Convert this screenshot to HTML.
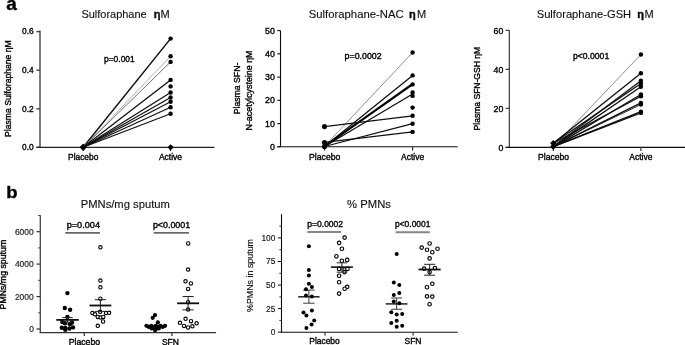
<!DOCTYPE html>
<html><head><meta charset="utf-8"><title>Figure</title>
<style>
html,body{margin:0;padding:0;background:#fff;}
svg{display:block;font-family:"Liberation Sans", sans-serif;}
text{stroke:#000;stroke-width:.36px;}
text.l{stroke-width:.12px;}
text.t{stroke:#111;stroke-width:.12px;fill:#111;}
</style></head>
<body>
<svg width="685" height="345" viewBox="0 0 685 345">
<defs><filter id="soft" x="0" y="0" width="685" height="345" filterUnits="userSpaceOnUse"><feGaussianBlur stdDeviation="0.33"/></filter></defs>
<rect width="685" height="345" fill="#fff"/>
<g filter="url(#soft)">
<text x="6.2" y="9.7" font-size="19" font-weight="bold" fill="#000">a</text>
<text x="6.3" y="197.8" font-size="17" textLength="11.3" lengthAdjust="spacingAndGlyphs" font-weight="bold" fill="#000">b</text>
<line x1="40" y1="30.5" x2="40" y2="147.3" stroke="#444" stroke-width="1.4"/>
<line x1="36.4" y1="31.6" x2="40" y2="31.6" stroke="#444" stroke-width="1.4"/>
<text x="33.7" y="34.0" font-size="8.4" text-anchor="end" fill="#111">0.6</text>
<line x1="36.4" y1="70.2" x2="40" y2="70.2" stroke="#444" stroke-width="1.4"/>
<text x="33.7" y="72.8" font-size="8.4" text-anchor="end" fill="#111">0.4</text>
<line x1="36.4" y1="108.8" x2="40" y2="108.8" stroke="#444" stroke-width="1.4"/>
<text x="33.7" y="111.6" font-size="8.4" text-anchor="end" fill="#111">0.2</text>
<line x1="36.4" y1="147.3" x2="40" y2="147.3" stroke="#444" stroke-width="1.4"/>
<text x="33.7" y="150.3" font-size="8.4" text-anchor="end" fill="#111">0.0</text>
<line x1="36.4" y1="147.3" x2="214.4" y2="147.3" stroke="#222" stroke-width="1.3"/>
<line x1="83.2" y1="147.3" x2="83.2" y2="151" stroke="#333" stroke-width="1.2"/>
<line x1="170.5" y1="147.3" x2="170.5" y2="151" stroke="#333" stroke-width="1.2"/>
<text x="83.2" y="159.7" font-size="8.4" text-anchor="middle" textLength="30.3" lengthAdjust="spacingAndGlyphs" fill="#111">Placebo</text>
<text x="170.5" y="159.9" font-size="8.4" text-anchor="middle" textLength="23.2" lengthAdjust="spacingAndGlyphs" fill="#111">Active</text>
<text x="81.4" y="18" font-size="11" textLength="65.3" lengthAdjust="spacingAndGlyphs" fill="#111" class="t">Sulforaphane</text>
<text x="153.7" y="18" font-size="11" font-weight="bold" fill="#111">η</text>
<text x="160.5" y="18" font-size="11" fill="#111" class="t">M</text>
<text x="104" y="61.5" font-size="8.4" textLength="30.7" lengthAdjust="spacingAndGlyphs" fill="#111">p=0.001</text>
<text x="11.2" y="137.0" font-size="8.4" textLength="96.8" lengthAdjust="spacingAndGlyphs" transform="rotate(-90 11.2 137.0)" fill="#111">Plasma Sulforaphane ηM</text>
<line x1="83.2" y1="147.3" x2="170.6" y2="38.6" stroke="#111" stroke-width="1.45"/>
<line x1="83.2" y1="147.3" x2="170.6" y2="56.3" stroke="#777" stroke-width="0.6"/>
<line x1="83.2" y1="147.3" x2="170.6" y2="61.9" stroke="#333" stroke-width="0.7"/>
<line x1="83.2" y1="147.3" x2="170.6" y2="79.9" stroke="#111" stroke-width="1.3"/>
<line x1="83.2" y1="147.3" x2="170.6" y2="92.5" stroke="#111" stroke-width="1.3"/>
<line x1="83.2" y1="147.3" x2="170.6" y2="97.5" stroke="#111" stroke-width="1.2"/>
<line x1="83.2" y1="147.3" x2="170.6" y2="101.8" stroke="#111" stroke-width="1.2"/>
<line x1="83.2" y1="147.3" x2="170.6" y2="107.2" stroke="#111" stroke-width="1.2"/>
<line x1="83.2" y1="147.3" x2="170.6" y2="113.7" stroke="#111" stroke-width="1.2"/>
<circle cx="170.6" cy="38.6" r="2.2" fill="#000"/>
<circle cx="170.6" cy="56.3" r="2.2" fill="#000"/>
<circle cx="170.6" cy="61.9" r="2.2" fill="#000"/>
<circle cx="170.6" cy="79.9" r="2.2" fill="#000"/>
<circle cx="170.6" cy="86.4" r="2.2" fill="#000"/>
<circle cx="170.6" cy="92.5" r="2.2" fill="#000"/>
<circle cx="170.6" cy="97.5" r="2.2" fill="#000"/>
<circle cx="170.6" cy="101.8" r="2.2" fill="#000"/>
<circle cx="170.6" cy="107.2" r="2.2" fill="#000"/>
<circle cx="170.6" cy="113.7" r="2.2" fill="#000"/>
<path d="M168.45 147.3L170.6 145.15L172.75 147.3L170.6 149.45000000000002Z" fill="#000" stroke="#000" stroke-width="1.3" stroke-linejoin="round"/>
<path d="M80.45 147.3L83.2 144.55L85.95 147.3L83.2 150.05Z" fill="#000" stroke="#000" stroke-width="1.3" stroke-linejoin="round"/>
<line x1="280.5" y1="30.6" x2="280.5" y2="146.8" stroke="#111" stroke-width="1.1"/>
<line x1="277.3" y1="30.6" x2="280.5" y2="30.6" stroke="#111" stroke-width="1.1"/>
<text x="274.9" y="33.5" font-size="8.8" text-anchor="end" fill="#111">50</text>
<line x1="277.3" y1="53.8" x2="280.5" y2="53.8" stroke="#111" stroke-width="1.1"/>
<text x="274.9" y="56.7" font-size="8.8" text-anchor="end" fill="#111">40</text>
<line x1="277.3" y1="77.1" x2="280.5" y2="77.1" stroke="#111" stroke-width="1.1"/>
<text x="274.9" y="80.0" font-size="8.8" text-anchor="end" fill="#111">30</text>
<line x1="277.3" y1="100.3" x2="280.5" y2="100.3" stroke="#111" stroke-width="1.1"/>
<text x="274.9" y="103.2" font-size="8.8" text-anchor="end" fill="#111">20</text>
<line x1="277.3" y1="123.6" x2="280.5" y2="123.6" stroke="#111" stroke-width="1.1"/>
<text x="274.9" y="126.5" font-size="8.8" text-anchor="end" fill="#111">10</text>
<line x1="277.3" y1="146.8" x2="280.5" y2="146.8" stroke="#111" stroke-width="1.1"/>
<text x="274.9" y="149.7" font-size="8.8" text-anchor="end" fill="#111">0</text>
<line x1="277.3" y1="146.8" x2="457.7" y2="146.8" stroke="#111" stroke-width="1.1"/>
<line x1="324.5" y1="146.8" x2="324.5" y2="150.6" stroke="#333" stroke-width="1.2"/>
<line x1="412.6" y1="146.8" x2="412.6" y2="150.6" stroke="#333" stroke-width="1.2"/>
<text x="324.7" y="159.5" font-size="8.4" text-anchor="middle" textLength="31.2" lengthAdjust="spacingAndGlyphs" fill="#111">Placebo</text>
<text x="412.6" y="159.7" font-size="8.4" text-anchor="middle" textLength="23.2" lengthAdjust="spacingAndGlyphs" fill="#111">Active</text>
<text x="308.8" y="18.4" font-size="11" textLength="94.8" lengthAdjust="spacingAndGlyphs" fill="#111" class="t">Sulforaphane-NAC</text>
<text x="408.9" y="18.4" font-size="11" font-weight="bold" fill="#111">η</text>
<text x="416.9" y="18.4" font-size="11" fill="#111" class="t">M</text>
<text x="344.6" y="58.8" font-size="8.4" textLength="37.1" lengthAdjust="spacingAndGlyphs" fill="#111">p=0.0002</text>
<text x="240.1" y="114.3" font-size="8.4" textLength="51.6" lengthAdjust="spacingAndGlyphs" transform="rotate(-90 240.1 114.3)" fill="#111">Plasma SFN-</text>
<text x="251.8" y="130.5" font-size="8.4" textLength="80" lengthAdjust="spacingAndGlyphs" transform="rotate(-90 251.8 130.5)" fill="#111">N-acetylcysteine ηM</text>
<line x1="324.5" y1="146.2" x2="412.6" y2="52.5" stroke="#333" stroke-width="0.55"/>
<line x1="324.5" y1="146.5" x2="412.6" y2="75.4" stroke="#111" stroke-width="1.3"/>
<line x1="324.5" y1="146.3" x2="412.6" y2="83.8" stroke="#000" stroke-width="1.7"/>
<line x1="324.5" y1="146.8" x2="412.6" y2="84.8" stroke="#000" stroke-width="1.3"/>
<line x1="324.5" y1="146.5" x2="412.6" y2="94.0" stroke="#111" stroke-width="1.3"/>
<line x1="324.5" y1="126.6" x2="412.6" y2="115.8" stroke="#111" stroke-width="1.25"/>
<line x1="324.5" y1="146.5" x2="412.6" y2="123.7" stroke="#111" stroke-width="1.25"/>
<line x1="324.5" y1="142.3" x2="412.6" y2="131.9" stroke="#111" stroke-width="1.25"/>
<circle cx="412.6" cy="52.5" r="2.2" fill="#000"/>
<circle cx="412.6" cy="75.4" r="2.2" fill="#000"/>
<circle cx="412.6" cy="84.4" r="2.2" fill="#000"/>
<circle cx="412.6" cy="92.5" r="2.2" fill="#000"/>
<circle cx="412.6" cy="95.9" r="2.2" fill="#000"/>
<circle cx="412.6" cy="107.6" r="2.2" fill="#000"/>
<circle cx="412.6" cy="115.8" r="2.2" fill="#000"/>
<circle cx="412.6" cy="123.7" r="2.2" fill="#000"/>
<circle cx="412.6" cy="131.9" r="2.2" fill="#000"/>
<circle cx="324.5" cy="126.6" r="2.55" fill="#000"/>
<circle cx="324.5" cy="142.5" r="2.55" fill="#000"/>
<circle cx="324.5" cy="146.6" r="2.55" fill="#000"/>
<line x1="509.3" y1="30.3" x2="509.3" y2="147.4" stroke="#222" stroke-width="1.05"/>
<line x1="505.7" y1="30.3" x2="509.3" y2="30.3" stroke="#222" stroke-width="1.05"/>
<text x="503.3" y="33.5" font-size="8.8" text-anchor="end" fill="#111">60</text>
<line x1="505.7" y1="69.3" x2="509.3" y2="69.3" stroke="#222" stroke-width="1.05"/>
<text x="503.3" y="72.5" font-size="8.8" text-anchor="end" fill="#111">40</text>
<line x1="505.7" y1="108.3" x2="509.3" y2="108.3" stroke="#222" stroke-width="1.05"/>
<text x="503.3" y="111.5" font-size="8.8" text-anchor="end" fill="#111">20</text>
<line x1="505.7" y1="147.4" x2="509.3" y2="147.4" stroke="#222" stroke-width="1.05"/>
<text x="503.3" y="150.6" font-size="8.8" text-anchor="end" fill="#111">0</text>
<line x1="505.6" y1="147.4" x2="685" y2="147.4" stroke="#111" stroke-width="1.1"/>
<line x1="553.4" y1="147.2" x2="553.4" y2="151" stroke="#333" stroke-width="1.2"/>
<line x1="640.9" y1="147.2" x2="640.9" y2="151" stroke="#333" stroke-width="1.2"/>
<text x="553.6" y="159.5" font-size="8.4" text-anchor="middle" textLength="31" lengthAdjust="spacingAndGlyphs" fill="#111">Placebo</text>
<text x="640.9" y="159.7" font-size="8.4" text-anchor="middle" textLength="23.2" lengthAdjust="spacingAndGlyphs" fill="#111">Active</text>
<text x="536.7" y="18" font-size="11" textLength="94.5" lengthAdjust="spacingAndGlyphs" fill="#111" class="t">Sulforaphane-GSH</text>
<text x="637.3" y="18" font-size="11" font-weight="bold" fill="#111">η</text>
<text x="644.5" y="18" font-size="11" fill="#111" class="t">M</text>
<text x="573" y="58.6" font-size="8.4" textLength="36.2" lengthAdjust="spacingAndGlyphs" fill="#111">p&lt;0.0001</text>
<text x="480.5" y="130.4" font-size="8.4" textLength="83.5" lengthAdjust="spacingAndGlyphs" transform="rotate(-90 480.5 130.4)" fill="#111">Plasma SFN-GSH ηM</text>
<line x1="553.3" y1="146.6" x2="640.9" y2="54.5" stroke="#333" stroke-width="0.55"/>
<line x1="553.3" y1="143.3" x2="640.9" y2="73.3" stroke="#111" stroke-width="1.3"/>
<line x1="553.3" y1="146.6" x2="640.9" y2="80.7" stroke="#111" stroke-width="1.3"/>
<line x1="553.3" y1="143.3" x2="640.9" y2="83.5" stroke="#111" stroke-width="1.3"/>
<line x1="553.3" y1="146.6" x2="640.9" y2="86.8" stroke="#111" stroke-width="1.3"/>
<line x1="553.3" y1="146.6" x2="640.9" y2="94.5" stroke="#111" stroke-width="1.3"/>
<line x1="553.3" y1="143.3" x2="640.9" y2="96.2" stroke="#111" stroke-width="1.2"/>
<line x1="553.3" y1="146.6" x2="640.9" y2="102.9" stroke="#111" stroke-width="1.3"/>
<line x1="553.3" y1="146.6" x2="640.9" y2="104.5" stroke="#111" stroke-width="0.9"/>
<line x1="553.3" y1="146.6" x2="640.9" y2="111.7" stroke="#111" stroke-width="1.3"/>
<line x1="553.3" y1="146.6" x2="640.9" y2="112.9" stroke="#111" stroke-width="1.2"/>
<circle cx="640.9" cy="54.5" r="2.2" fill="#000"/>
<circle cx="640.9" cy="73.3" r="2.2" fill="#000"/>
<circle cx="640.9" cy="80.7" r="2.2" fill="#000"/>
<circle cx="640.9" cy="83.5" r="2.2" fill="#000"/>
<circle cx="640.9" cy="86.8" r="2.2" fill="#000"/>
<circle cx="640.9" cy="94.5" r="2.2" fill="#000"/>
<circle cx="640.9" cy="96.2" r="2.2" fill="#000"/>
<circle cx="640.9" cy="102.9" r="2.2" fill="#000"/>
<circle cx="640.9" cy="104.5" r="2.2" fill="#000"/>
<circle cx="640.9" cy="111.7" r="2.2" fill="#000"/>
<circle cx="640.9" cy="112.9" r="2.2" fill="#000"/>
<path d="M550.9499999999999 143.2L553.3 140.85L555.65 143.2L553.3 145.54999999999998Z" fill="#000" stroke="#000" stroke-width="1.3" stroke-linejoin="round"/>
<path d="M550.9499999999999 146.6L553.3 144.25L555.65 146.6L553.3 148.95Z" fill="#000" stroke="#000" stroke-width="1.3" stroke-linejoin="round"/>
<line x1="40.3" y1="215.3" x2="40.3" y2="332.7" stroke="#444" stroke-width="1.3"/>
<line x1="36.5" y1="231.7" x2="40.3" y2="231.7" stroke="#333" stroke-width="1.2"/>
<text x="33.8" y="234.7" font-size="8.4" text-anchor="end" textLength="18.9" lengthAdjust="spacingAndGlyphs" fill="#111" class="l">6000</text>
<line x1="36.5" y1="264.1" x2="40.3" y2="264.1" stroke="#333" stroke-width="1.2"/>
<text x="33.8" y="267.1" font-size="8.4" text-anchor="end" textLength="18.9" lengthAdjust="spacingAndGlyphs" fill="#111" class="l">4000</text>
<line x1="36.5" y1="296.6" x2="40.3" y2="296.6" stroke="#333" stroke-width="1.2"/>
<text x="33.8" y="299.6" font-size="8.4" text-anchor="end" textLength="18.9" lengthAdjust="spacingAndGlyphs" fill="#111" class="l">2000</text>
<line x1="36.5" y1="329.0" x2="40.3" y2="329.0" stroke="#333" stroke-width="1.2"/>
<text x="33.8" y="332.0" font-size="8.4" text-anchor="end" fill="#111" class="l">0</text>
<line x1="38.099999999999994" y1="215.5" x2="40.3" y2="215.5" stroke="#444" stroke-width="1.0"/>
<line x1="38.099999999999994" y1="247.9" x2="40.3" y2="247.9" stroke="#444" stroke-width="1.0"/>
<line x1="38.099999999999994" y1="280.3" x2="40.3" y2="280.3" stroke="#444" stroke-width="1.0"/>
<line x1="38.099999999999994" y1="312.8" x2="40.3" y2="312.8" stroke="#444" stroke-width="1.0"/>
<line x1="39.699999999999996" y1="332.7" x2="216.1" y2="332.7" stroke="#333" stroke-width="1.2"/>
<line x1="84.3" y1="332.7" x2="84.3" y2="336" stroke="#333" stroke-width="1.2"/>
<line x1="171.9" y1="332.7" x2="171.9" y2="336" stroke="#333" stroke-width="1.2"/>
<text x="84.4" y="344.6" font-size="8.4" text-anchor="middle" textLength="31.5" lengthAdjust="spacingAndGlyphs" fill="#111">Placebo</text>
<text x="170.4" y="344.8" font-size="8.4" text-anchor="middle" textLength="17" lengthAdjust="spacingAndGlyphs" fill="#111">SFN</text>
<text x="80.7" y="207.7" font-size="11" textLength="89.2" lengthAdjust="spacingAndGlyphs" fill="#111" class="t">PMNs/mg sputum</text>
<text x="6.4" y="309.4" font-size="8.4" textLength="69.6" lengthAdjust="spacingAndGlyphs" transform="rotate(-90 6.4 309.4)" fill="#111">PMNs/mg sputum</text>
<text x="66.7" y="227.5" font-size="8.4" textLength="33.3" lengthAdjust="spacingAndGlyphs" fill="#111">p=0.004</text>
<line x1="65.2" y1="232.8" x2="99.9" y2="232.8" stroke="#666" stroke-width="1.8"/>
<text x="152.9" y="227.5" font-size="8.4" textLength="37.3" lengthAdjust="spacingAndGlyphs" fill="#111">p&lt;0.0001</text>
<line x1="153.7" y1="232.8" x2="189" y2="232.8" stroke="#6a6a6a" stroke-width="1.7"/>
<circle cx="67.4" cy="293.1" r="2.2" fill="#000"/>
<circle cx="64.8" cy="308" r="2.2" fill="#000"/>
<circle cx="70.1" cy="309.7" r="2.2" fill="#000"/>
<circle cx="67.4" cy="316.9" r="2.2" fill="#000"/>
<circle cx="62.3" cy="322" r="2.2" fill="#000"/>
<circle cx="65" cy="323.2" r="2.2" fill="#000"/>
<circle cx="72" cy="322.5" r="2.2" fill="#000"/>
<circle cx="69.8" cy="324.2" r="2.2" fill="#000"/>
<circle cx="61.8" cy="327.8" r="2.2" fill="#000"/>
<circle cx="65.3" cy="328" r="2.2" fill="#000"/>
<circle cx="69.4" cy="328.6" r="2.2" fill="#000"/>
<circle cx="73" cy="327.4" r="2.2" fill="#000"/>
<circle cx="65.3" cy="329.8" r="2.2" fill="#000"/>
<line x1="67.5" y1="317.6" x2="67.5" y2="322.2" stroke="#222" stroke-width="1.0"/>
<line x1="62.3" y1="317.6" x2="72.7" y2="317.6" stroke="#222" stroke-width="1.0"/>
<line x1="62.3" y1="322.2" x2="72.7" y2="322.2" stroke="#222" stroke-width="1.0"/>
<line x1="56.3" y1="319.9" x2="78.7" y2="319.9" stroke="#111" stroke-width="1.8"/>
<circle cx="100.4" cy="247.3" r="1.7" fill="#fff" stroke="#000" stroke-width="1.1"/>
<circle cx="100.4" cy="280.6" r="1.7" fill="#fff" stroke="#000" stroke-width="1.1"/>
<circle cx="100.4" cy="287.3" r="1.7" fill="#fff" stroke="#000" stroke-width="1.1"/>
<circle cx="100.4" cy="298.7" r="1.7" fill="#fff" stroke="#000" stroke-width="1.1"/>
<circle cx="100.1" cy="311.8" r="1.7" fill="#fff" stroke="#000" stroke-width="1.1"/>
<circle cx="92.4" cy="313.1" r="1.7" fill="#fff" stroke="#000" stroke-width="1.1"/>
<circle cx="95" cy="314.3" r="1.7" fill="#fff" stroke="#000" stroke-width="1.1"/>
<circle cx="106" cy="313.1" r="1.7" fill="#fff" stroke="#000" stroke-width="1.1"/>
<circle cx="109.1" cy="312.8" r="1.7" fill="#fff" stroke="#000" stroke-width="1.1"/>
<circle cx="97.8" cy="316.9" r="1.7" fill="#fff" stroke="#000" stroke-width="1.1"/>
<circle cx="100.6" cy="317.6" r="1.7" fill="#fff" stroke="#000" stroke-width="1.1"/>
<circle cx="103.3" cy="316.9" r="1.7" fill="#fff" stroke="#000" stroke-width="1.1"/>
<circle cx="103.1" cy="321.5" r="1.7" fill="#fff" stroke="#000" stroke-width="1.1"/>
<circle cx="97.8" cy="325.8" r="1.7" fill="#fff" stroke="#000" stroke-width="1.1"/>
<line x1="100.4" y1="299.7" x2="100.4" y2="311.4" stroke="#222" stroke-width="1.0"/>
<line x1="94.80000000000001" y1="299.7" x2="106.0" y2="299.7" stroke="#222" stroke-width="1.0"/>
<line x1="94.80000000000001" y1="311.4" x2="106.0" y2="311.4" stroke="#222" stroke-width="1.0"/>
<line x1="89.5" y1="305.5" x2="111.30000000000001" y2="305.5" stroke="#111" stroke-width="1.8"/>
<circle cx="155" cy="315.1" r="2.1" fill="#000"/>
<circle cx="152.7" cy="317.8" r="2.1" fill="#000"/>
<circle cx="157.9" cy="322.4" r="2.1" fill="#000"/>
<circle cx="146.6" cy="325.8" r="2.1" fill="#000"/>
<circle cx="148.9" cy="327.0" r="2.1" fill="#000"/>
<circle cx="151.2" cy="325.8" r="2.1" fill="#000"/>
<circle cx="153.5" cy="327.0" r="2.1" fill="#000"/>
<circle cx="155.79999999999998" cy="325.8" r="2.1" fill="#000"/>
<circle cx="158.1" cy="327.0" r="2.1" fill="#000"/>
<circle cx="160.4" cy="325.8" r="2.1" fill="#000"/>
<circle cx="162.7" cy="327.0" r="2.1" fill="#000"/>
<circle cx="165.0" cy="325.8" r="2.1" fill="#000"/>
<circle cx="151.6" cy="328.4" r="2.1" fill="#000"/>
<circle cx="154.0" cy="328.4" r="2.1" fill="#000"/>
<circle cx="156.4" cy="328.4" r="2.1" fill="#000"/>
<circle cx="158.79999999999998" cy="328.4" r="2.1" fill="#000"/>
<circle cx="155.1" cy="330.2" r="2.1" fill="#000"/>
<line x1="144.6" y1="325.8" x2="166.5" y2="325.8" stroke="#000" stroke-width="1.8"/>
<circle cx="188.2" cy="243.5" r="1.7" fill="#fff" stroke="#000" stroke-width="1.1"/>
<circle cx="188.1" cy="269.6" r="1.7" fill="#fff" stroke="#000" stroke-width="1.1"/>
<circle cx="185.5" cy="281.3" r="1.7" fill="#fff" stroke="#000" stroke-width="1.1"/>
<circle cx="190.9" cy="283.5" r="1.7" fill="#fff" stroke="#000" stroke-width="1.1"/>
<circle cx="188.1" cy="288.9" r="1.7" fill="#fff" stroke="#000" stroke-width="1.1"/>
<circle cx="188.1" cy="302.2" r="1.7" fill="#fff" stroke="#000" stroke-width="1.1"/>
<circle cx="188.1" cy="309.6" r="1.7" fill="#fff" stroke="#000" stroke-width="1.1"/>
<circle cx="185.6" cy="318.8" r="1.7" fill="#fff" stroke="#000" stroke-width="1.1"/>
<circle cx="180" cy="322.8" r="1.7" fill="#fff" stroke="#000" stroke-width="1.1"/>
<circle cx="191" cy="321.2" r="1.7" fill="#fff" stroke="#000" stroke-width="1.1"/>
<circle cx="196.6" cy="323.3" r="1.7" fill="#fff" stroke="#000" stroke-width="1.1"/>
<circle cx="184" cy="325.9" r="1.7" fill="#fff" stroke="#000" stroke-width="1.1"/>
<circle cx="188.1" cy="327.5" r="1.7" fill="#fff" stroke="#000" stroke-width="1.1"/>
<circle cx="192.4" cy="326.3" r="1.7" fill="#fff" stroke="#000" stroke-width="1.1"/>
<line x1="188.1" y1="296.5" x2="188.1" y2="309.9" stroke="#222" stroke-width="1.0"/>
<line x1="182.5" y1="296.5" x2="193.7" y2="296.5" stroke="#222" stroke-width="1.0"/>
<line x1="182.5" y1="309.9" x2="193.7" y2="309.9" stroke="#222" stroke-width="1.0"/>
<line x1="177.1" y1="303.3" x2="199.1" y2="303.3" stroke="#111" stroke-width="1.8"/>
<line x1="281.5" y1="214.2" x2="281.5" y2="332.2" stroke="#111" stroke-width="1.1"/>
<line x1="277.9" y1="237.9" x2="281.5" y2="237.9" stroke="#111" stroke-width="1.0"/>
<text x="275.4" y="240.8" font-size="8.4" text-anchor="end" fill="#111" class="l">100</text>
<line x1="277.9" y1="261.5" x2="281.5" y2="261.5" stroke="#111" stroke-width="1.0"/>
<text x="275.4" y="264.4" font-size="8.4" text-anchor="end" fill="#111" class="l">75</text>
<line x1="277.9" y1="285.1" x2="281.5" y2="285.1" stroke="#111" stroke-width="1.0"/>
<text x="275.4" y="288.0" font-size="8.4" text-anchor="end" fill="#111" class="l">50</text>
<line x1="277.9" y1="308.6" x2="281.5" y2="308.6" stroke="#111" stroke-width="1.0"/>
<text x="275.4" y="311.5" font-size="8.4" text-anchor="end" fill="#111" class="l">25</text>
<line x1="277.9" y1="332.2" x2="281.5" y2="332.2" stroke="#111" stroke-width="1.0"/>
<text x="275.4" y="335.09999999999997" font-size="8.4" text-anchor="end" fill="#111" class="l">0</text>
<line x1="279.3" y1="226.1" x2="281.5" y2="226.1" stroke="#222" stroke-width="0.9"/>
<line x1="279.3" y1="249.7" x2="281.5" y2="249.7" stroke="#222" stroke-width="0.9"/>
<line x1="279.3" y1="273.3" x2="281.5" y2="273.3" stroke="#222" stroke-width="0.9"/>
<line x1="279.3" y1="296.9" x2="281.5" y2="296.9" stroke="#222" stroke-width="0.9"/>
<line x1="279.3" y1="320.4" x2="281.5" y2="320.4" stroke="#222" stroke-width="0.9"/>
<line x1="281.0" y1="332.2" x2="457.7" y2="332.2" stroke="#111" stroke-width="1.1"/>
<line x1="325" y1="332.2" x2="325" y2="335.6" stroke="#333" stroke-width="1.2"/>
<line x1="413.1" y1="332.2" x2="413.1" y2="335.6" stroke="#333" stroke-width="1.2"/>
<text x="324.5" y="344.4" font-size="8.4" text-anchor="middle" textLength="30.5" lengthAdjust="spacingAndGlyphs" fill="#111">Placebo</text>
<text x="413" y="344.3" font-size="8.4" text-anchor="middle" textLength="17" lengthAdjust="spacingAndGlyphs" fill="#111">SFN</text>
<text x="347.1" y="208.0" font-size="11" textLength="43.8" lengthAdjust="spacingAndGlyphs" fill="#111" class="t">% PMNs</text>
<text x="253.1" y="312" font-size="8.4" textLength="73" lengthAdjust="spacingAndGlyphs" transform="rotate(-90 253.1 312)" fill="#111" class="l">%PMNs in sputum</text>
<text x="307.3" y="227.0" font-size="8.4" textLength="35.8" lengthAdjust="spacingAndGlyphs" fill="#111">p=0.0002</text>
<line x1="307.3" y1="232.1" x2="341" y2="232.1" stroke="#858585" stroke-width="2.0"/>
<text x="395" y="227.0" font-size="8.4" textLength="35.4" lengthAdjust="spacingAndGlyphs" fill="#111">p&lt;0.0001</text>
<line x1="395.6" y1="232.2" x2="429.8" y2="232.2" stroke="#858585" stroke-width="2.0"/>
<line x1="308.9" y1="290.1" x2="308.9" y2="303.2" stroke="#4a4a4a" stroke-width="1.1"/>
<line x1="303.2" y1="290.1" x2="314.59999999999997" y2="290.1" stroke="#4a4a4a" stroke-width="1.1"/>
<line x1="303.2" y1="303.2" x2="314.59999999999997" y2="303.2" stroke="#4a4a4a" stroke-width="1.1"/>
<line x1="298.2" y1="296.8" x2="319.59999999999997" y2="296.8" stroke="#222" stroke-width="1.5"/>
<circle cx="308.9" cy="246.3" r="2.0" fill="#000"/>
<circle cx="308.9" cy="269.9" r="2.0" fill="#000"/>
<circle cx="308.9" cy="275.5" r="2.0" fill="#000"/>
<circle cx="308.9" cy="283.7" r="2.0" fill="#000"/>
<circle cx="311.9" cy="287" r="2.0" fill="#000"/>
<circle cx="306" cy="289.3" r="2.0" fill="#000"/>
<circle cx="306" cy="295.6" r="2.0" fill="#000"/>
<circle cx="311.9" cy="296.5" r="2.0" fill="#000"/>
<circle cx="311.9" cy="310.5" r="2.0" fill="#000"/>
<circle cx="303.5" cy="312.5" r="2.0" fill="#000"/>
<circle cx="306.4" cy="315.4" r="2.0" fill="#000"/>
<circle cx="314.2" cy="320.4" r="2.0" fill="#000"/>
<circle cx="311.6" cy="324.5" r="2.0" fill="#000"/>
<circle cx="306.4" cy="328" r="2.0" fill="#000"/>
<circle cx="344.6" cy="237.6" r="1.75" fill="#fff" stroke="#000" stroke-width="1.15"/>
<circle cx="339.1" cy="242.8" r="1.75" fill="#fff" stroke="#000" stroke-width="1.15"/>
<circle cx="341.9" cy="248.7" r="1.75" fill="#fff" stroke="#000" stroke-width="1.15"/>
<circle cx="336.4" cy="256.3" r="1.75" fill="#fff" stroke="#000" stroke-width="1.15"/>
<circle cx="341.9" cy="260.7" r="1.75" fill="#fff" stroke="#000" stroke-width="1.15"/>
<circle cx="347.2" cy="259.9" r="1.75" fill="#fff" stroke="#000" stroke-width="1.15"/>
<circle cx="339.1" cy="268.9" r="1.75" fill="#fff" stroke="#000" stroke-width="1.15"/>
<circle cx="344.6" cy="269.5" r="1.75" fill="#fff" stroke="#000" stroke-width="1.15"/>
<circle cx="347.5" cy="268.9" r="1.75" fill="#fff" stroke="#000" stroke-width="1.15"/>
<circle cx="344.6" cy="272.1" r="1.75" fill="#fff" stroke="#000" stroke-width="1.15"/>
<circle cx="339.1" cy="275.7" r="1.75" fill="#fff" stroke="#000" stroke-width="1.15"/>
<circle cx="339.1" cy="282.2" r="1.75" fill="#fff" stroke="#000" stroke-width="1.15"/>
<circle cx="347.2" cy="286.8" r="1.75" fill="#fff" stroke="#000" stroke-width="1.15"/>
<circle cx="344.6" cy="288.7" r="1.75" fill="#fff" stroke="#000" stroke-width="1.15"/>
<circle cx="339.1" cy="293.6" r="1.75" fill="#fff" stroke="#000" stroke-width="1.15"/>
<line x1="341.9" y1="262.8" x2="341.9" y2="272.2" stroke="#222" stroke-width="1.0"/>
<line x1="336.7" y1="262.8" x2="347.09999999999997" y2="262.8" stroke="#222" stroke-width="1.0"/>
<line x1="336.7" y1="272.2" x2="347.09999999999997" y2="272.2" stroke="#222" stroke-width="1.0"/>
<line x1="330.9" y1="267.1" x2="352.9" y2="267.1" stroke="#111" stroke-width="1.6"/>
<line x1="396.6" y1="298" x2="396.6" y2="309.3" stroke="#4a4a4a" stroke-width="1.1"/>
<line x1="391.20000000000005" y1="298" x2="402.0" y2="298" stroke="#4a4a4a" stroke-width="1.1"/>
<line x1="391.20000000000005" y1="309.3" x2="402.0" y2="309.3" stroke="#4a4a4a" stroke-width="1.1"/>
<line x1="385.70000000000005" y1="303.9" x2="407.5" y2="303.9" stroke="#222" stroke-width="1.5"/>
<circle cx="396.7" cy="254" r="2.0" fill="#000"/>
<circle cx="393.8" cy="282.6" r="2.0" fill="#000"/>
<circle cx="399.3" cy="285" r="2.0" fill="#000"/>
<circle cx="399.3" cy="293.1" r="2.0" fill="#000"/>
<circle cx="393.8" cy="294.9" r="2.0" fill="#000"/>
<circle cx="393.8" cy="301.5" r="2.0" fill="#000"/>
<circle cx="399.3" cy="303.3" r="2.0" fill="#000"/>
<circle cx="391.3" cy="312.2" r="2.0" fill="#000"/>
<circle cx="396.7" cy="314.6" r="2.0" fill="#000"/>
<circle cx="402.2" cy="314" r="2.0" fill="#000"/>
<circle cx="396.7" cy="320.8" r="2.0" fill="#000"/>
<circle cx="391.3" cy="322.9" r="2.0" fill="#000"/>
<circle cx="402.2" cy="325.7" r="2.0" fill="#000"/>
<circle cx="396.7" cy="326.8" r="2.0" fill="#000"/>
<circle cx="429.6" cy="243.5" r="1.75" fill="#fff" stroke="#000" stroke-width="1.15"/>
<circle cx="421.7" cy="247.6" r="1.75" fill="#fff" stroke="#000" stroke-width="1.15"/>
<circle cx="427" cy="249.7" r="1.75" fill="#fff" stroke="#000" stroke-width="1.15"/>
<circle cx="437.5" cy="248.7" r="1.75" fill="#fff" stroke="#000" stroke-width="1.15"/>
<circle cx="432.3" cy="252.2" r="1.75" fill="#fff" stroke="#000" stroke-width="1.15"/>
<circle cx="429.6" cy="258.4" r="1.75" fill="#fff" stroke="#000" stroke-width="1.15"/>
<circle cx="424.1" cy="268.6" r="1.75" fill="#fff" stroke="#000" stroke-width="1.15"/>
<circle cx="434.9" cy="268.1" r="1.75" fill="#fff" stroke="#000" stroke-width="1.15"/>
<circle cx="429.6" cy="272.1" r="1.75" fill="#fff" stroke="#000" stroke-width="1.15"/>
<circle cx="432.3" cy="283.7" r="1.75" fill="#fff" stroke="#000" stroke-width="1.15"/>
<circle cx="427" cy="287.2" r="1.75" fill="#fff" stroke="#000" stroke-width="1.15"/>
<circle cx="427" cy="296.3" r="1.75" fill="#fff" stroke="#000" stroke-width="1.15"/>
<circle cx="432.3" cy="296.6" r="1.75" fill="#fff" stroke="#000" stroke-width="1.15"/>
<circle cx="429.6" cy="304.2" r="1.75" fill="#fff" stroke="#000" stroke-width="1.15"/>
<line x1="429.6" y1="264.3" x2="429.6" y2="275.2" stroke="#222" stroke-width="1.0"/>
<line x1="424.1" y1="264.3" x2="435.1" y2="264.3" stroke="#222" stroke-width="1.0"/>
<line x1="424.1" y1="275.2" x2="435.1" y2="275.2" stroke="#222" stroke-width="1.0"/>
<line x1="418.5" y1="269.5" x2="440.70000000000005" y2="269.5" stroke="#111" stroke-width="1.7"/>
</g>
</svg>
</body></html>
